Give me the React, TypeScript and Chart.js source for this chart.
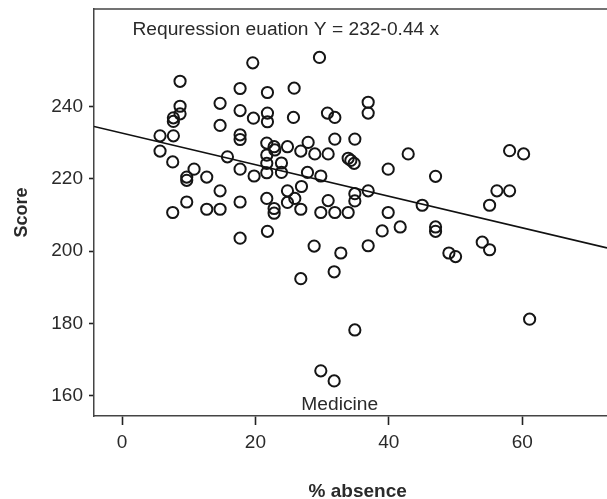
import React, { useEffect, useRef } from "react";
import { Chart, registerables } from "chart.js";
Chart.register(...registerables);

// % absence (x) and Score (y) for each student
const absence = [
  5.7, 5.7, 7.7, 7.7, 7.7, 7.6, 7.6, 8.7, 8.7, 8.7,
  9.7, 9.7, 9.7, 10.8, 12.7, 12.7, 14.7, 14.7, 14.7, 14.7,
  15.8, 17.7, 17.7, 17.7, 17.7, 17.7, 17.7, 17.7, 19.6, 19.7,
  19.8, 21.8, 21.8, 21.8, 21.7, 21.7, 21.7, 21.7, 21.7, 21.8,
  22.8, 22.9, 22.8, 22.8, 23.9, 23.9, 24.8, 24.8, 24.8, 25.8,
  25.7, 26.8, 25.9, 26.8, 26.9, 26.8, 27.9, 27.8, 28.9, 28.8,
  29.6, 29.8, 29.8, 29.8, 30.8, 30.9, 30.9, 31.9, 31.9, 31.9,
  31.8, 31.8, 32.8, 33.9, 34.3, 34.8, 33.9, 34.9, 34.9, 34.9,
  34.9, 36.9, 36.9, 36.9, 36.9, 39.0, 39.9, 39.9, 41.7, 42.9,
  45.0, 47.0, 47.0, 47.0, 49.0, 50.0, 54.0, 55.1, 55.1, 56.2,
  58.1, 58.1, 60.2, 61.1,
];
const score = [
  231.9, 227.7, 236.9, 235.9, 231.9, 224.7, 210.7, 247.0, 240.1, 238.0,
  220.5, 219.6, 213.6, 222.7, 220.5, 211.6, 240.9, 234.8, 216.7, 211.6,
  226.1, 245.0, 238.9, 232.2, 230.9, 222.7, 213.6, 203.6, 252.1, 236.8,
  220.8, 243.9, 238.2, 235.8, 229.9, 226.6, 224.3, 221.7, 214.6, 205.5,
  228.9, 228.0, 211.8, 210.5, 224.4, 221.8, 228.9, 216.7, 213.5, 245.1,
  237.0, 227.7, 214.6, 192.4, 217.9, 211.6, 230.1, 221.8, 226.9, 201.4,
  253.6, 220.8, 210.7, 166.9, 238.2, 226.9, 214.0, 237.0, 231.0, 210.7,
  194.3, 164.1, 199.5, 225.7, 225.1, 224.3, 210.7, 231.0, 215.9, 213.9,
  178.2, 241.2, 238.2, 216.7, 201.5, 205.6, 222.7, 210.7, 206.7, 226.9,
  212.7, 220.7, 206.7, 205.5, 199.5, 198.5, 202.5, 200.4, 212.7, 216.7,
  216.7, 227.8, 226.9, 181.2,
];

// regression line end points
const lineX = [-4.2, 72.7];
const lineY = [234.5, 200.9];

const xTicks = [0, 20, 40, 60];
const yTicks = [160, 180, 200, 220, 240];
const xRange = [-4.2, 72.7];
const yRange = [154.4, 267];

const equationText = "Requression euation Y = 232-0.44 x";
const groupLabel = "Medicine";
const xTitle = "% absence";
const yTitle = "Score";

const FONT = "'Liberation Sans', Arial, Helvetica, sans-serif";

export default function App() {
  const ref = useRef<HTMLCanvasElement>(null);

  useEffect(() => {
    const canvas = ref.current!;
    const annotations = {
      id: "annotations",
      afterDraw(chart: any) {
        const { ctx, chartArea } = chart;
        ctx.save();
        // top frame line
        ctx.strokeStyle = "#444";
        ctx.lineWidth = 1.5;
        ctx.beginPath();
        ctx.moveTo(chartArea.left - 0.75, chartArea.top);
        ctx.lineTo(chartArea.right, chartArea.top);
        ctx.stroke();

        ctx.fillStyle = "#2a2a2a";
        ctx.textBaseline = "alphabetic";
        ctx.textAlign = "left";
        ctx.font = `19.2px ${FONT}`;
        ctx.fillText(equationText, chartArea.left + 38.5, chartArea.top + 26);
        ctx.fillText(groupLabel, 301.3, chartArea.bottom - 6);

        ctx.font = `bold 19px ${FONT}`;
        ctx.textAlign = "center";
        ctx.fillText(xTitle, 357.7, 496.5);

        ctx.save();
        ctx.translate(26.7, (chartArea.top + chartArea.bottom) / 2);
        ctx.rotate(-Math.PI / 2);
        ctx.font = `bold 18px ${FONT}`;
        ctx.fillText(yTitle, 0, 0);
        ctx.restore();
        ctx.restore();
      },
    };

    const chart = new Chart(canvas, {
      type: "scatter",
      data: {
        datasets: [
          {
            type: "line",
            data: lineX.map((x, i) => ({ x, y: lineY[i] })),
            borderColor: "#111",
            borderWidth: 1.6,
            pointRadius: 0,
            fill: false,
          } as any,
          {
            data: absence.map((x, i) => ({ x, y: score[i] })),
            pointRadius: 5.6,
            pointBorderWidth: 2,
            borderColor: "#151515",
            backgroundColor: "rgba(0,0,0,0)",
            pointBackgroundColor: "rgba(0,0,0,0)",
            pointBorderColor: "#151515",
          },
        ],
      },
      options: {
        responsive: false,
        animation: false,
        devicePixelRatio: 1,
        layout: { autoPadding: false, padding: { left: 0, top: 9, right: 0, bottom: 0 } },
        plugins: {
          legend: { display: false },
          tooltip: { enabled: false },
          title: { display: false },
        },
        scales: {
          x: {
            type: "linear",
            min: xRange[0],
            max: xRange[1],
            afterBuildTicks: (s: any) => {
              s.ticks = xTicks.map((v) => ({ value: v }));
            },
            afterFit: (s: any) => {
              s.height = 83;
              s.paddingLeft = 0;
              s.paddingRight = 0;
              s.paddingTop = 0;
              s.paddingBottom = 0;
            },
            grid: {
              drawOnChartArea: false,
              drawTicks: true,
              tickLength: 9,
              tickWidth: 1.6,
              tickColor: "#222",
            },
            border: { display: true, color: "#444", width: 1.5 },
            ticks: {
              padding: 6,
              color: "#2a2a2a",
              font: { family: FONT, size: 19 },
              maxRotation: 0,
            },
          },
          y: {
            type: "linear",
            min: yRange[0],
            max: yRange[1],
            afterBuildTicks: (s: any) => {
              s.ticks = yTicks.map((v) => ({ value: v }));
            },
            afterFit: (s: any) => {
              s.width = 94;
              s.paddingLeft = 0;
              s.paddingRight = 0;
              s.paddingTop = 0;
              s.paddingBottom = 0;
            },
            grid: {
              drawOnChartArea: false,
              drawTicks: true,
              tickLength: 5,
              tickWidth: 1.6,
              tickColor: "#222",
            },
            border: { display: true, color: "#444", width: 1.5 },
            ticks: {
              padding: 6,
              color: "#2a2a2a",
              font: { family: FONT, size: 19 },
            },
          },
        },
      },
      plugins: [annotations],
    } as any);
    return () => chart.destroy();
  }, []);

  return (
    <div style={{ position: "absolute", left: 0, top: 0, width: 607, height: 499, background: "#fff" }}>
      <canvas ref={ref} width={607} height={499} />
    </div>
  );
}
